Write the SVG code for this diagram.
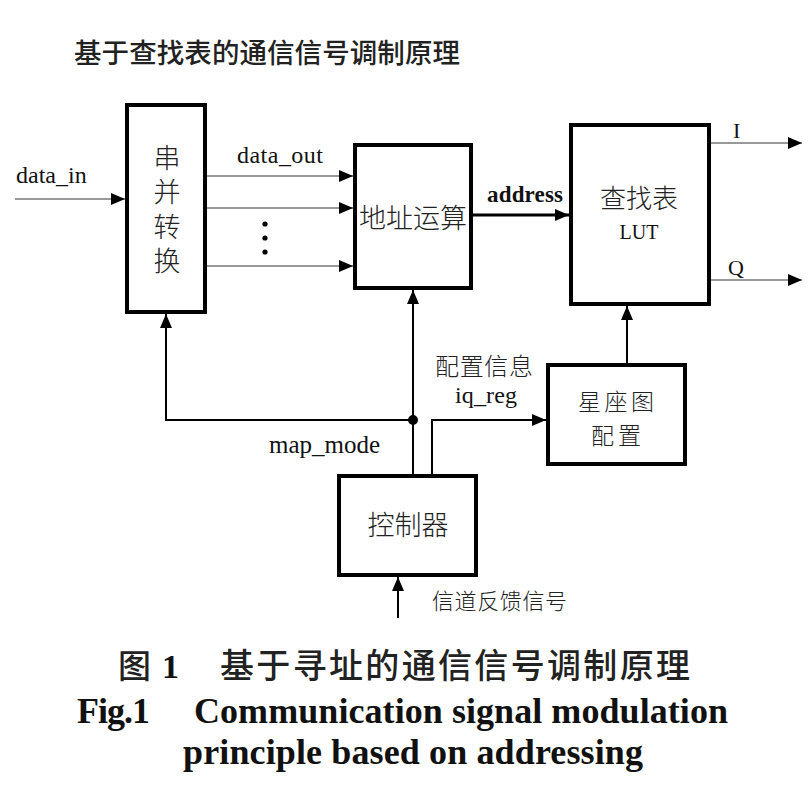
<svg xmlns="http://www.w3.org/2000/svg" width="810" height="793" viewBox="0 0 810 793">
<style>
.box{fill:#fff;stroke:#000;stroke-width:4}
.cjk{font-family:"Noto Sans CJK SC","Noto Sans",sans-serif;fill:#222}
.lt{font-weight:300}
.tm{font-family:"Liberation Serif","Times New Roman",serif;fill:#111}
.thin{stroke:#777;stroke-width:1.6;fill:none}
.med{stroke:#000;stroke-width:2;fill:none}
.thick{stroke:#000;stroke-width:3;fill:none}
</style>
<defs>
<marker id="ah" markerUnits="userSpaceOnUse" markerWidth="14" markerHeight="12" refX="14" refY="6" orient="auto" viewBox="0 0 14 12">
<path d="M0,0 L14,6 L0,12 z" fill="#000"/>
</marker>
</defs>
<rect width="810" height="793" fill="#fff"/>
<text class="cjk" x="74" y="63" font-size="27.5" font-weight="500" textLength="386">基于查找表的通信信号调制原理</text>
<g id="connectors">
<line class="thin" x1="15" y1="199" x2="125" y2="199" marker-end="url(#ah)"/>
<line class="thin" x1="207" y1="176" x2="353" y2="176" marker-end="url(#ah)"/>
<line class="thin" x1="207" y1="208" x2="353" y2="208" marker-end="url(#ah)"/>
<line class="thin" x1="207" y1="266" x2="353" y2="266" marker-end="url(#ah)"/>
<circle cx="265" cy="224" r="2.6" fill="#000"/>
<circle cx="265" cy="238" r="2.6" fill="#000"/>
<circle cx="265" cy="252" r="2.6" fill="#000"/>
<line class="thick" x1="473" y1="215" x2="569" y2="215" marker-end="url(#ah)"/>
<line class="thin" x1="711" y1="143" x2="802" y2="143" marker-end="url(#ah)"/>
<line class="thin" x1="711" y1="280" x2="802" y2="280" marker-end="url(#ah)"/>
<path class="med" d="M413,420 H166 V314" marker-end="url(#ah)"/>
<path class="med" d="M413,474 V290" marker-end="url(#ah)"/>
<circle cx="413" cy="420" r="5" fill="#000"/>
<path class="med" d="M432,474 V420 H546" marker-end="url(#ah)"/>
<path class="med" d="M627,363 V306" marker-end="url(#ah)"/>
<path class="med" d="M398,618 V577" marker-end="url(#ah)"/>
</g>
<g id="labels">
<text class="tm" x="16" y="183" font-size="24">data_in</text>
<text class="tm" x="237" y="163" font-size="24" textLength="86">data_out</text>
<text class="tm" x="487" y="202" font-size="23" font-weight="bold" textLength="76">address</text>
<text class="tm" x="733" y="138" font-size="22">I</text>
<text class="tm" x="728" y="275" font-size="22">Q</text>
<text class="cjk lt" x="435" y="375" font-size="24" textLength="98">配置信息</text>
<text class="tm" x="455" y="403" font-size="24" textLength="62">iq_reg</text>
<text class="tm" x="269" y="453" font-size="25" textLength="111">map_mode</text>
<text class="cjk lt" x="432" y="609" font-size="22" textLength="135">信道反馈信号</text>
</g>
<g id="node-sp">
<rect class="box" x="127" y="105" width="78" height="207"/>
<text class="cjk lt" x="167" y="144" font-size="27" writing-mode="vertical-rl" letter-spacing="7.5">串并转换</text>
</g>
<g id="node-addr">
<rect class="box" x="355" y="145" width="116" height="143"/>
<text class="cjk lt" x="413" y="228" font-size="27" text-anchor="middle">地址运算</text>
</g>
<g id="node-lut">
<rect class="box" x="571" y="125" width="138" height="179"/>
<text class="cjk lt" x="639" y="208" font-size="26" text-anchor="middle">查找表</text>
<text class="tm" x="639" y="239" font-size="20" text-anchor="middle">LUT</text>
</g>
<g id="node-const">
<rect class="box" x="548" y="365" width="137" height="99"/>
<text class="cjk lt" x="616" y="410" font-size="23" text-anchor="middle" textLength="76">星座图</text>
<text class="cjk lt" x="616" y="444" font-size="23" text-anchor="middle" textLength="50">配置</text>
</g>
<g id="node-ctrl">
<rect class="box" x="339" y="476" width="137" height="99"/>
<text class="cjk lt" x="408" y="535" font-size="27" text-anchor="middle">控制器</text>
</g>
<g id="caption">
<text class="cjk" x="118" y="678" font-size="33" font-weight="500" fill="#000">图</text>
<text class="tm" x="162" y="678" font-size="34" font-weight="bold" fill="#000">1</text>
<text class="cjk" x="220" y="678" font-size="34" font-weight="500" fill="#000" textLength="470">基于寻址的通信信号调制原理</text>
<text class="tm" x="77" y="723" font-size="36" font-weight="bold" fill="#000" textLength="73">Fig.1</text>
<text class="tm" x="194" y="723" font-size="36" font-weight="bold" fill="#000" textLength="534">Communication signal modulation</text>
<text class="tm" x="183" y="764" font-size="36" font-weight="bold" fill="#000" textLength="460">principle based on addressing</text>
</g>
</svg>
